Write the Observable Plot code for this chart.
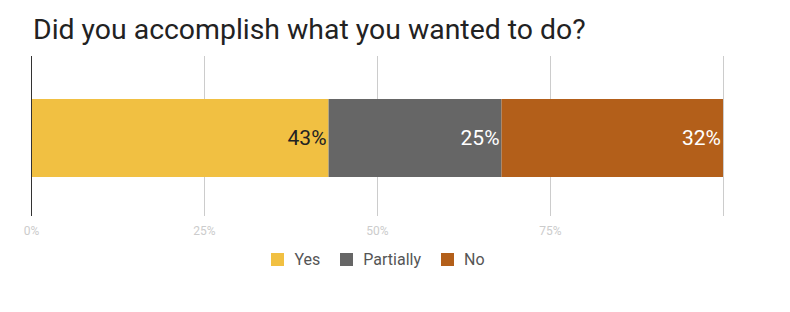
<!DOCTYPE html>
<html>
<head>
<meta charset="utf-8">
<script src="https://cdn.jsdelivr.net/npm/d3@7"></script>
<script src="https://cdn.jsdelivr.net/npm/@observablehq/plot@0.6"></script>
<style>
  body { margin: 0; background: #fff; font-family: Roboto, "Noto Sans", sans-serif; }
  #wrap { width: 790px; height: 312px; position: relative; overflow: hidden; }
  #title { height: 50px; box-sizing: border-box; padding-left: 33px; padding-top: 13px; font-size: 28.4px; line-height: 34px; color: #222; white-space: nowrap; }
  #chart svg { display: block; }
  #legend { height: 28px; display: flex; justify-content: center; align-items: center; padding-left: 33px; padding-right: 67px; font-size: 16px; color: #555; }
  .item { display: flex; align-items: center; margin: 0 10px; }
  .sw { width: 13px; height: 13px; margin-right: 10px; }
</style>
</head>
<body>
<div id="wrap">
  <div id="title">Did you accomplish what you wanted to do?</div>
  <div id="chart"></div>
  <div id="legend"></div>
</div>
<script>
const categories = ["Yes", "Partially", "No"];
const values = [43, 25, 32];
const colors = ["#f1c042", "#666666", "#b35f1a"];
const labelColors = ["#222222", "#ffffff", "#ffffff"];
const gridTicks = [0, 25, 50, 75, 100];
const axisTicks = [0, 25, 50, 75];
const question = "Q";

const data = categories.map((c, i) => ({category: c, value: values[i], q: question}));

const plot = Plot.plot({
  width: 790,
  height: 195,
  marginLeft: 31,
  marginRight: 67,
  marginTop: 6,
  marginBottom: 29,
  style: {fontFamily: "Roboto, sans-serif", fontSize: "12px", background: "transparent"},
  x: {domain: [0, 100], label: null},
  y: {domain: [question], padding: 0, axis: null},
  color: {domain: categories, range: colors},
  marks: [
    Plot.ruleX(gridTicks.filter(d => d !== 0), {stroke: "#cccccc", strokeWidth: 1}),
    Plot.barX(data, Plot.stackX({x: "value", y: "q", fill: "category", order: null, insetTop: 43, insetBottom: 39})),
    Plot.text(data, Plot.stackX2({
      x: "value", y: "q", order: null,
      text: d => d.value + "%",
      fill: d => labelColors[categories.indexOf(d.category)],
      textAnchor: "end", dx: -2.5, dy: 1.5, fontSize: 21
    })),
    Plot.ruleX([0], {stroke: "#333333", strokeWidth: 1}),
    Plot.axisX({ticks: axisTicks, tickFormat: d => d + "%", tickSize: 0, tickPadding: 10, fontSize: 12, color: "#cccccc", label: null})
  ]
});
document.getElementById("chart").appendChild(plot);

const legend = document.getElementById("legend");
categories.forEach((c, i) => {
  const item = document.createElement("div");
  item.className = "item";
  const sw = document.createElement("div");
  sw.className = "sw";
  sw.style.background = colors[i];
  const t = document.createElement("span");
  t.textContent = c;
  item.appendChild(sw);
  item.appendChild(t);
  legend.appendChild(item);
});
</script>
</body>
</html>
